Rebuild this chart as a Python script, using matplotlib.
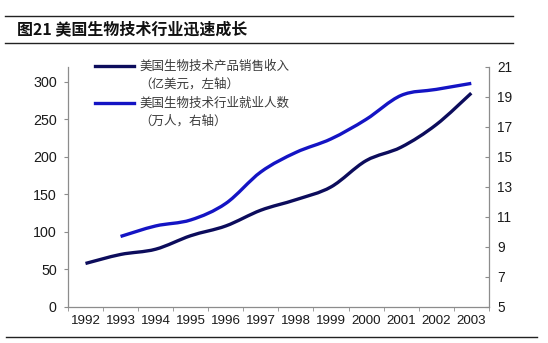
import numpy as np
import matplotlib.pyplot as plt
from matplotlib.path import Path
from matplotlib.patches import PathPatch
from matplotlib.lines import Line2D

plt.rcParams['font.family'] = ['Liberation Sans', 'Noto Sans CJK SC', 'DejaVu Sans']

years = ['1992', '1993', '1994', '1995', '1996', '1997', '1998', '1999', '2000', '2001', '2002', '2003']
sales = [58, 70, 77, 95, 108, 129, 143, 160, 195, 213, 243, 285]          # 亿美元, left axis
jobs_years = ['1993', '1994', '1995', '1996', '1997', '1998', '1999', '2000', '2001', '2002', '2003']
jobs = [9.7, 10.4, 10.8, 11.9, 14.0, 15.3, 16.2, 17.5, 19.1, 19.5, 19.9]  # 万人, right axis

navy = '#0c0c5c'
blue = '#1414c4'
grey = '#8c8c8c'


def smooth_path(xs, ys):
    # Excel-like smoothed line: Catmull-Rom control points as cubic Bezier segments
    xs = np.asarray(xs, float)
    ys = np.asarray(ys, float)
    verts = [(xs[0], ys[0])]
    codes = [Path.MOVETO]
    n = len(xs)
    for i in range(n - 1):
        p0 = np.array([xs[max(i - 1, 0)], ys[max(i - 1, 0)]])
        p1 = np.array([xs[i], ys[i]])
        p2 = np.array([xs[i + 1], ys[i + 1]])
        p3 = np.array([xs[min(i + 2, n - 1)], ys[min(i + 2, n - 1)]])
        c1 = p1 + (p2 - p0) / 6
        c2 = p2 - (p3 - p1) / 6
        verts += [tuple(c1), tuple(c2), tuple(p2)]
        codes += [Path.CURVE4] * 3
    return Path(verts, codes)


fig = plt.figure(figsize=(5.48, 3.43), dpi=100)
ax = fig.add_axes([0.124, 0.105, 0.768, 0.700])
ax2 = ax.twinx()

x1 = [years.index(y) for y in years]
x2 = [years.index(y) for y in jobs_years]
ax.add_patch(PathPatch(smooth_path(x1, sales), fill=False, edgecolor=navy, lw=2.4, capstyle='butt'))
ax2.add_patch(PathPatch(smooth_path(x2, jobs), fill=False, edgecolor=blue, lw=2.4, capstyle='butt'))

ax.set_xlim(-0.5, 11.5)
ax.set_ylim(0, 320)
ax.set_yticks(range(0, 301, 50))
ax2.set_ylim(5, 21)
ax2.set_yticks(range(5, 22, 2))
ax.set_xticks(range(len(years)))
ax.set_xticklabels(years)
ax.set_xticks(np.arange(-0.5, 12, 1), minor=True)
ax.tick_params(axis='x', which='major', length=0, pad=6, labelsize=9.6)
ax.tick_params(axis='x', which='minor', length=3, color=grey, direction='out')
ax.tick_params(axis='y', length=3, color=grey, direction='out', pad=5, labelsize=10.3)
ax2.tick_params(axis='y', length=3, color=grey, direction='in', pad=6, labelsize=9.8)
for a in (ax, ax2):
    a.tick_params(labelcolor='#1a1a1a')
    for s in a.spines.values():
        s.set_visible(False)
ax.spines['left'].set_visible(True)
ax.spines['bottom'].set_visible(True)
ax2.spines['right'].set_visible(True)
for s in (ax.spines['left'], ax.spines['bottom'], ax2.spines['right']):
    s.set_color(grey)
    s.set_linewidth(0.9)

# legend drawn by hand to match the two-line labels
cjk = ['Noto Sans CJK SC', 'DejaVu Sans']
fig.add_artist(Line2D([95 / 548, 134 / 548], [1 - 66 / 343] * 2, color=navy, lw=2.4))
fig.add_artist(Line2D([95 / 548, 134 / 548], [1 - 103 / 343] * 2, color=blue, lw=2.4))
leg = [('美国生物技术产品销售收入', 66), ('（亿美元，左轴）', 84),
       ('美国生物技术行业就业人数', 103), ('（万人，右轴）', 121)]
for txt, yy in leg:
    fig.text(139 / 548, 1 - yy / 343, txt, fontsize=9, color='#3a3a3a',
             family=cjk, va='center', ha='left')

# title block with rules
fig.add_artist(Line2D([5 / 548, 513 / 548], [1 - 16 / 343] * 2, color='#222222', lw=1.0))
fig.add_artist(Line2D([5 / 548, 513 / 548], [1 - 43 / 343] * 2, color='#222222', lw=1.0))
fig.add_artist(Line2D([6 / 548, 537 / 548], [1 - 337 / 343] * 2, color='#222222', lw=1.0))
fig.text(17 / 548, 1 - 29 / 343, '图21 美国生物技术行业迅速成长', fontsize=11.5,
         fontweight='bold', family=cjk, va='center', ha='left', color='#111111')

fig.savefig('out.png', dpi=100)
